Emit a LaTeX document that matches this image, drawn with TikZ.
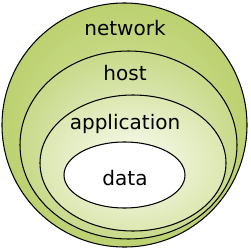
\documentclass[tikz,border=0pt]{standalone}
\usepackage{fontspec}
\setmainfont{DejaVu Sans}
\usepackage{tikz}
\definecolor{netouter}{HTML}{BCD170}
\definecolor{netinner}{HTML}{D6E4A2}
\definecolor{hostouter}{HTML}{C8DA8A}
\definecolor{hostinner}{HTML}{EEF3D8}
\definecolor{appouter}{HTML}{DCE7B0}
\definecolor{appinner}{HTML}{FAFCF3}
\tikzset{
  layer/.style = {draw=black,line width=0.6pt},
  lbl/.style   = {anchor=base,font=\fontsize{11.4}{13}\selectfont,text=black,inner sep=0pt}
}

\begin{document}
\begin{tikzpicture}[x=0.02cm,y=-0.02cm]
  \useasboundingbox (0,0) rectangle (250,250);
  % nested layers, outermost first
  \shade[layer,inner color=netinner,outer color=netouter]
    (124.5,125) ellipse [x radius=122.5,y radius=122];
  \shade[layer,inner color=hostinner,outer color=hostouter]
    (128.5,145) ellipse [x radius=108.5,y radius=94];
  \shade[layer,inner color=appinner,outer color=appouter]
    (133,163) ellipse [x radius=93,y radius=68];
  \filldraw[layer,fill=white]
    (124.5,175) ellipse [x radius=60.5,y radius=33];
  % labels
  \node[lbl] (network) at (125,35)  {network};
  \node[lbl] (host)    at (125,80)  {host};
  \node[lbl] (app)     at (125,129) {application};
  \node[lbl] (data)    at (125,185) {data};
\end{tikzpicture}
\end{document}
